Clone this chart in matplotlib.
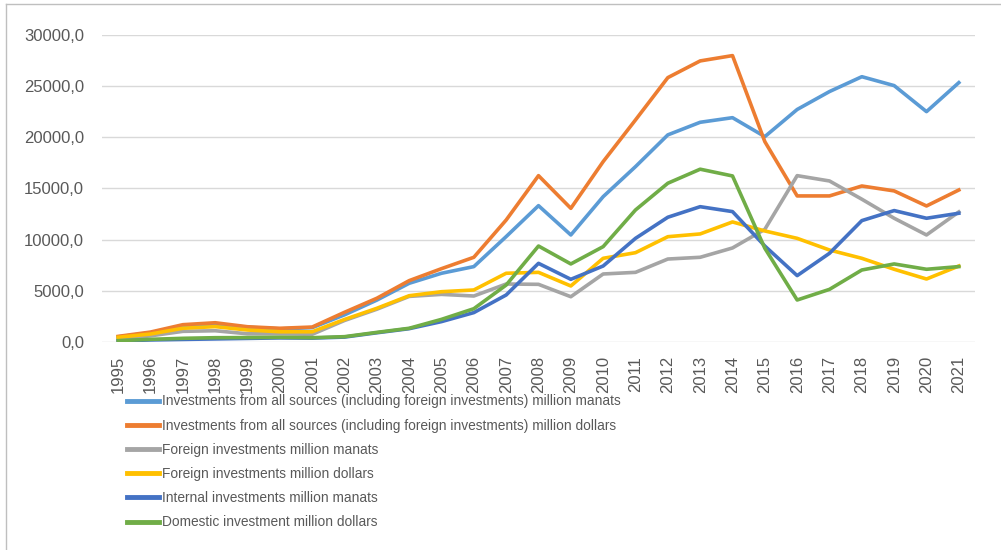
import matplotlib.pyplot as plt
from matplotlib.lines import Line2D
from matplotlib.ticker import FuncFormatter

years = [str(y) for y in range(1995, 2022)]

total_manats = [500, 900, 1560, 1750, 1440, 1280, 1400, 2650, 4090, 5730,
                6710, 7360, 10290, 13310, 10450, 14190, 17120, 20220, 21450, 21900,
                20050, 22700, 24450, 25900, 25030, 22490, 25320]
total_dollars = [550, 970, 1690, 1880, 1490, 1340, 1460, 2900, 4270, 5990,
                 7160, 8270, 11910, 16240, 13050, 17610, 21680, 25810, 27440, 27960,
                 19560, 14260, 14260, 15230, 14750, 13280, 14840]
foreign_manats = [300, 600, 1040, 1100, 800, 800, 750, 2100, 3200, 4450,
                  4650, 4490, 5660, 5630, 4420, 6640, 6800, 8100, 8270, 9180,
                  11000, 16240, 15720, 13940, 12080, 10450, 12700]
foreign_dollars = [460, 780, 1340, 1500, 1170, 1000, 1000, 2200, 3290, 4520,
                   4910, 5080, 6710, 6800, 5470, 8170, 8720, 10280, 10550, 11720,
                   10840, 10120, 8980, 8170, 7100, 6150, 7420]
internal_manats = [100, 200, 250, 300, 350, 400, 380, 480, 900, 1300,
                   1990, 2870, 4590, 7680, 6120, 7420, 10120, 12180, 13210, 12730,
                   9370, 6480, 8660, 11850, 12830, 12080, 12570]
domestic_dollars = [130, 260, 360, 420, 430, 460, 420, 520, 940, 1340,
                    2210, 3250, 5560, 9370, 7620, 9310, 12890, 15500, 16870, 16210,
                    9150, 4100, 5140, 7030, 7620, 7100, 7360]

labels = [
    "Investments from all sources (including foreign investments) million manats",
    "Investments from all sources (including foreign investments) million dollars",
    "Foreign investments million manats",
    "Foreign investments million dollars",
    "Internal investments million manats",
    "Domestic investment million dollars",
]
colors = ["#5B9BD5", "#ED7D31", "#A5A5A5", "#FFC000", "#4472C4", "#70AD47"]
series = [total_manats, total_dollars, foreign_manats,
          foreign_dollars, internal_manats, domestic_dollars]

plt.rcParams['font.family'] = ['Liberation Sans', 'DejaVu Sans']

fig = plt.figure(figsize=(10.01, 5.5), dpi=100)
ax = fig.add_axes([102 / 1001, (550 - 342) / 550, (975 - 102) / 1001, (342 - 34.7) / 550])

x = list(range(len(years)))
for vals, col, lab in zip(series, colors, labels):
    ax.plot(x, vals, color=col, linewidth=2.6, label=lab, solid_joinstyle="round")

ax.set_xlim(-0.5, len(years) - 0.5)
ax.set_ylim(0, 30000)
ax.set_yticks(range(0, 30001, 5000))
ax.yaxis.set_major_formatter(FuncFormatter(lambda v, p: f"{v:.1f}".replace(".", ",")))
ax.set_xticks(x)
ax.set_xticklabels(years, rotation=90)
ax.grid(axis="y", color="#D9D9D9", linewidth=1)
ax.set_axisbelow(True)
for s in ax.spines.values():
    s.set_visible(False)
ax.tick_params(axis="both", length=0, colors="#595959", labelsize=12)
ax.tick_params(axis="y", pad=13)
ax.tick_params(axis="x", pad=10)

leg = fig.legend(loc="upper left", bbox_to_anchor=(121 / 1001, 1 - 389 / 550),
                 frameon=False, fontsize=9.9, handlelength=2.35, handletextpad=0.2,
                 labelspacing=0.74, borderaxespad=0)
for t in leg.get_texts():
    t.set_color("#595959")
for h in leg.legend_handles:
    h.set_linewidth(3.5)

fig.add_artist(Line2D([6 / 1001, 1], [1 - 4 / 550, 1 - 4 / 550], color="#BFBFBF", linewidth=1))
fig.add_artist(Line2D([6 / 1001, 6 / 1001], [0, 1 - 4 / 550], color="#BFBFBF", linewidth=1))

fig.savefig("out.png", dpi=100)
